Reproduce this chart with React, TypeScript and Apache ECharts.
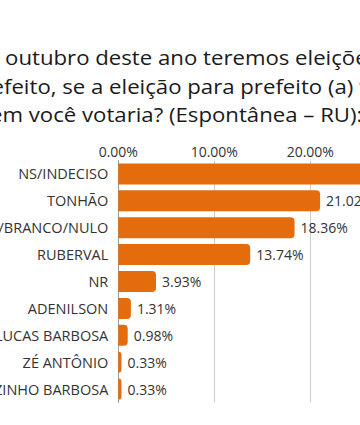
import React, { useEffect, useRef } from "react";
import * as echarts from "echarts";

const categories = [
  "NS/INDECISO",
  "TONHÃO",
  "NENHUM/BRANCO/NULO",
  "RUBERVAL",
  "NR",
  "ADENILSON",
  "LUCAS BARBOSA",
  "ZÉ ANTÔNIO",
  "ZEZINHO BARBOSA",
];
const values = [40.0, 21.02, 18.36, 13.74, 3.93, 1.31, 0.98, 0.33, 0.33];
const titleLines = [
  "a outubro deste ano teremos eleições para",
  "efeito, se a eleição para prefeito (a) fosse hoje, em",
  "em você votaria? (Espontânea – RU):",
];

const FONT = "Open Sans";

export default function App() {
  const ref = useRef<HTMLDivElement>(null);
  useEffect(() => {
    if (!ref.current) return;
    const chart = echarts.init(ref.current, null, { renderer: "svg" });
    const tf = `500 20px "${FONT}"`;
    const sx = 1.11;
    chart.setOption({
      animation: false,
      backgroundColor: "#ffffff",
      textStyle: { fontFamily: FONT },
      graphic: [
        { type: "text", x: -13, y: 57, scaleX: sx, style: { text: titleLines[0], font: tf, fill: "#1a1a1a", textVerticalAlign: "middle" } },
        { type: "text", x: -8.5, y: 86, scaleX: sx, style: { text: titleLines[1], font: tf, fill: "#1a1a1a", textVerticalAlign: "middle" } },
        { type: "text", x: -10, y: 114, scaleX: sx, style: { text: titleLines[2], font: tf, fill: "#1a1a1a", textVerticalAlign: "middle" } },
      ],
      grid: { left: 118.3, top: 160.5, height: 242, width: 480, containLabel: false, outerBoundsMode: "none" },
      xAxis: {
        type: "value",
        position: "top",
        min: 0,
        max: 50,
        interval: 10,
        axisLine: { show: false },
        axisTick: { show: false },
        splitLine: { show: true, lineStyle: { color: "#cccccc", width: 1 } },
        axisLabel: {
          margin: 2,
          fontSize: 14,
          color: "#333333",
          fontFamily: FONT,
          formatter: (v: number) => v.toFixed(2) + "%",
        },
      },
      yAxis: {
        type: "category",
        inverse: true,
        data: categories,
        axisLine: { show: true, lineStyle: { color: "#999999", width: 1 } },
        axisTick: { show: false },
        axisLabel: { margin: 10, fontSize: 14.5, color: "#333333", fontFamily: FONT },
      },
      series: [
        {
          type: "bar",
          data: values,
          barWidth: 21,
          itemStyle: { color: "#E46C0C", borderRadius: [0, 4, 4, 0] },
          label: {
            show: true,
            position: "right",
            distance: 6,
            fontSize: 14,
            color: "#333333",
            fontFamily: FONT,
            formatter: (p: any) => Number(p.value).toFixed(2) + "%",
          },
        },
      ],
    });
    return () => chart.dispose();
  }, []);
  return (
    <div style={{ position: "fixed", left: 0, top: 0, width: 360, height: 425, overflow: "hidden", background: "#fff" }}>
      <div ref={ref} style={{ width: 360, height: 425 }} />
    </div>
  );
}
